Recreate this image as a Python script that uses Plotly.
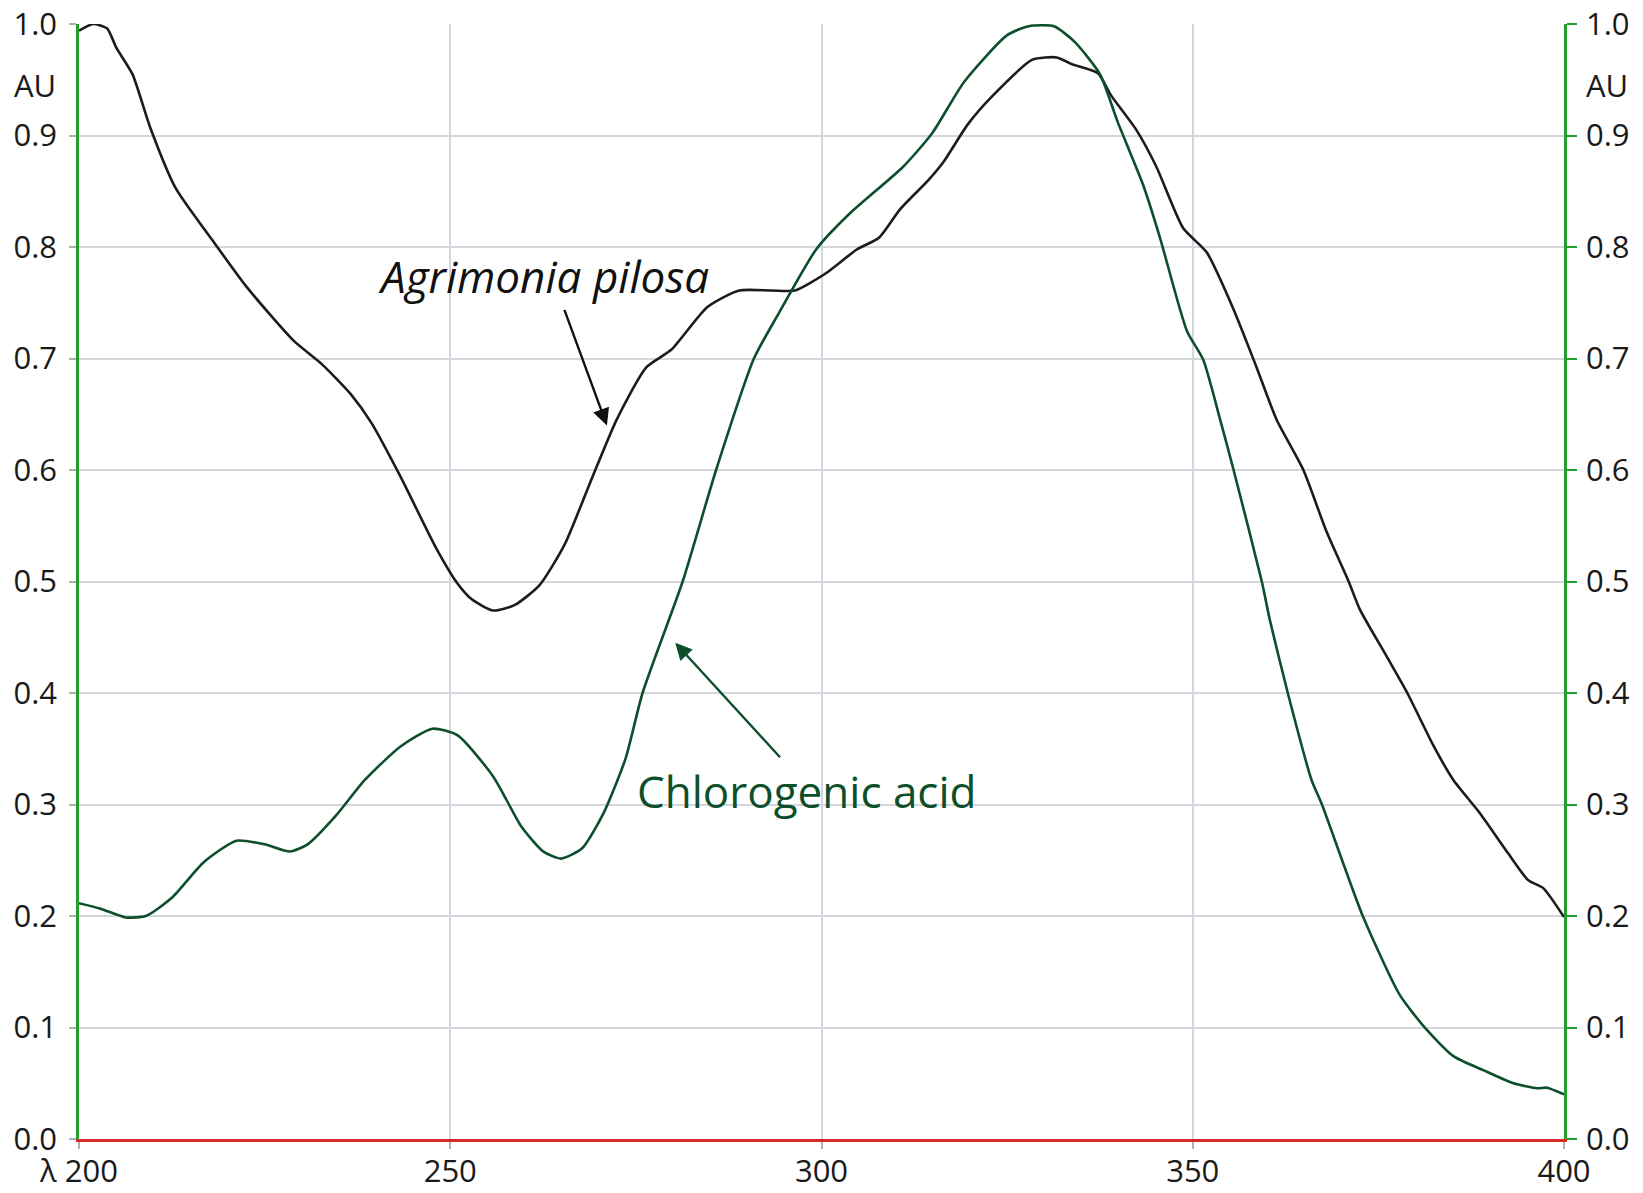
import plotly.graph_objects as go

# Wavelength (nm) and absorbance (AU)
agri_x = [200, 201.9, 203.8, 205.0, 207.2, 209.6, 213.0, 218.3, 222.6, 228.9, 232.7, 236.6,
          239.4, 243.3, 248.1, 251.0, 252.9, 255.8, 258.7, 262.0, 265.4, 268.8, 272.4,
          276.4, 279.8, 284.6, 288.9, 293.3, 296.4, 300.5, 304.8, 307.7, 310.6, 314.4,
          316.4, 319.7, 323.1, 328.4, 331.7, 333.7, 337.2, 339.0, 342.4, 345.1, 348.7,
          351.9, 355.5, 358.6, 361.3, 364.9, 368.0, 371.0, 372.5, 376.1, 378.9, 382.4,
          385.1, 388.7, 392.5, 395.2, 397.2, 400]
agri_y = [0.994, 1.000, 0.996, 0.979, 0.955, 0.907, 0.853, 0.803, 0.764, 0.716, 0.695, 0.668,
          0.642, 0.594, 0.530, 0.498, 0.484, 0.474, 0.479, 0.4965, 0.533, 0.588, 0.645,
          0.692, 0.708, 0.746, 0.761, 0.761, 0.761, 0.776, 0.798, 0.808, 0.834, 0.860,
          0.876, 0.910, 0.936, 0.968, 0.970, 0.964, 0.956, 0.936, 0.905, 0.872, 0.817,
          0.795, 0.744, 0.692, 0.645, 0.600, 0.545, 0.500, 0.475, 0.433, 0.400, 0.353,
          0.322, 0.292, 0.256, 0.232, 0.225, 0.199]

chlo_x = [200, 202.9, 206.3, 209.1, 212.5, 216.8, 221.2, 225.0, 228.4, 230.8, 234.6, 238.5,
          243.3, 247.6, 251.0, 255.8, 259.6, 262.5, 264.9, 267.8, 270.7, 273.6, 275.9,
          281.3, 285.8, 290.9, 294.2, 299.3, 303.8, 311.0, 314.9, 319.2, 325.0, 327.9,
          331.3, 334.1, 337.5, 339.9, 343.3, 345.6, 349.2, 351.4, 353.7, 355.5, 359.3,
          360.4, 362.8, 366.0, 367.4, 372.9, 377.9, 381.5, 385.1, 389.2, 393.2, 396.4,
          397.7, 400]
chlo_y = [0.2115, 0.2066, 0.1987, 0.2003, 0.2163, 0.2483, 0.2675, 0.2643, 0.2579, 0.2643,
          0.290, 0.322, 0.352, 0.368, 0.362, 0.325, 0.280, 0.258, 0.2515, 0.261, 0.293,
          0.341, 0.400, 0.500, 0.600, 0.700, 0.740, 0.798, 0.830, 0.872, 0.902,
          0.948, 0.990, 0.998, 0.998, 0.984, 0.955, 0.912, 0.856, 0.808, 0.725, 0.699,
          0.645, 0.600, 0.500, 0.465, 0.400, 0.322, 0.300, 0.200, 0.129, 0.098, 0.0743,
          0.0615, 0.050, 0.0455, 0.046, 0.040]

x_ticks = [200, 250, 300, 350, 400]
x_ticktext = ["λ 200", "250", "300", "350", "400"]
y_ticks = [0.0, 0.1, 0.2, 0.3, 0.4, 0.5, 0.6, 0.7, 0.8, 0.9, 1.0]
y_ticktext = ["0.0", "0.1", "0.2", "0.3", "0.4", "0.5", "0.6", "0.7", "0.8", "0.9", "1.0"]

FONT = "Open Sans"
GRID = "#d3d6dd"
AXGREEN = "#22a12a"
DARKGREEN = "#0d4f2b"

fig = go.Figure()
fig.add_trace(go.Scatter(x=agri_x, y=agri_y, mode="lines", name="Agrimonia pilosa",
                         line=dict(color="#1c1c1c", width=2.6, shape="spline", smoothing=0.6),
                         yaxis="y"))
fig.add_trace(go.Scatter(x=chlo_x, y=chlo_y, mode="lines", name="Chlorogenic acid",
                         line=dict(color=DARKGREEN, width=2.6, shape="spline", smoothing=0.6),
                         yaxis="y2"))

tickfont = dict(family=FONT, size=31, color="#1a1a1a")

# The page body adds an 8px offset, so the figure is sized/placed to compensate.
fig.update_layout(
    width=1635, height=1185,
    margin=dict(l=71, r=79, t=16, b=54),
    paper_bgcolor="white", plot_bgcolor="white",
    showlegend=False,
    xaxis=dict(range=[200, 400], tickvals=x_ticks, ticktext=x_ticktext,
               showgrid=True, gridcolor=GRID, gridwidth=2,
               showline=True, linecolor="#d42a2a", linewidth=2.5,
               ticks="outside", ticklen=7, tickcolor="#b0b0b0", tickwidth=1.5,
               zeroline=False, tickfont=tickfont, ticklabelstandoff=-4,
               automargin=False, ticklabeloverflow="allow"),
    yaxis=dict(range=[0, 1], tickvals=y_ticks, ticktext=y_ticktext,
               showgrid=True, gridcolor=GRID, gridwidth=2,
               showline=True, linecolor=AXGREEN, linewidth=2.5,
               ticks="outside", ticklen=7, tickcolor="#b0b0b0", tickwidth=1.5,
               zeroline=False, tickfont=tickfont, ticklabelstandoff=6,
               automargin=False, ticklabeloverflow="allow"),
    yaxis2=dict(range=[0, 1], tickvals=y_ticks, ticktext=y_ticktext,
                overlaying="y", side="right", showgrid=False,
                showline=True, linecolor=AXGREEN, linewidth=2.5,
                ticks="outside", ticklen=10, tickcolor=AXGREEN, tickwidth=2,
                zeroline=False, tickfont=tickfont, ticklabelstandoff=3,
                automargin=False, ticklabeloverflow="allow"),
)

# "AU" unit labels on both axes
fig.add_annotation(text="AU", xref="paper", yref="y", x=0, y=0.945, xanchor="right",
                   yanchor="middle", xshift=-21, showarrow=False, font=tickfont)
fig.add_annotation(text="AU", xref="paper", yref="y", x=1, y=0.945, xanchor="left",
                   yanchor="middle", xshift=20, showarrow=False, font=tickfont)

# Curve labels
fig.add_annotation(text="<i>Agrimonia pilosa</i>", x=262.5, y=0.774, xref="x", yref="y",
                   showarrow=False, font=dict(family=FONT, size=44, color="#111111"))
fig.add_annotation(text="Chlorogenic acid", x=298.0, y=0.312, xref="x", yref="y",
                   showarrow=False, font=dict(family=FONT, size=44, color=DARKGREEN))

# Arrows
fig.add_annotation(x=271.1, y=0.640, ax=265.3, ay=0.745, xref="x", yref="y",
                   axref="x", ayref="y", text="", showarrow=True, arrowhead=2,
                   arrowsize=1.4, arrowwidth=2.4, arrowcolor="#111111")
fig.add_annotation(x=280.3, y=0.445, ax=294.6, ay=0.341, xref="x", yref="y",
                   axref="x", ayref="y", text="", showarrow=True, arrowhead=2,
                   arrowsize=1.4, arrowwidth=2.4, arrowcolor=DARKGREEN)

fig.write_html("out.html")
